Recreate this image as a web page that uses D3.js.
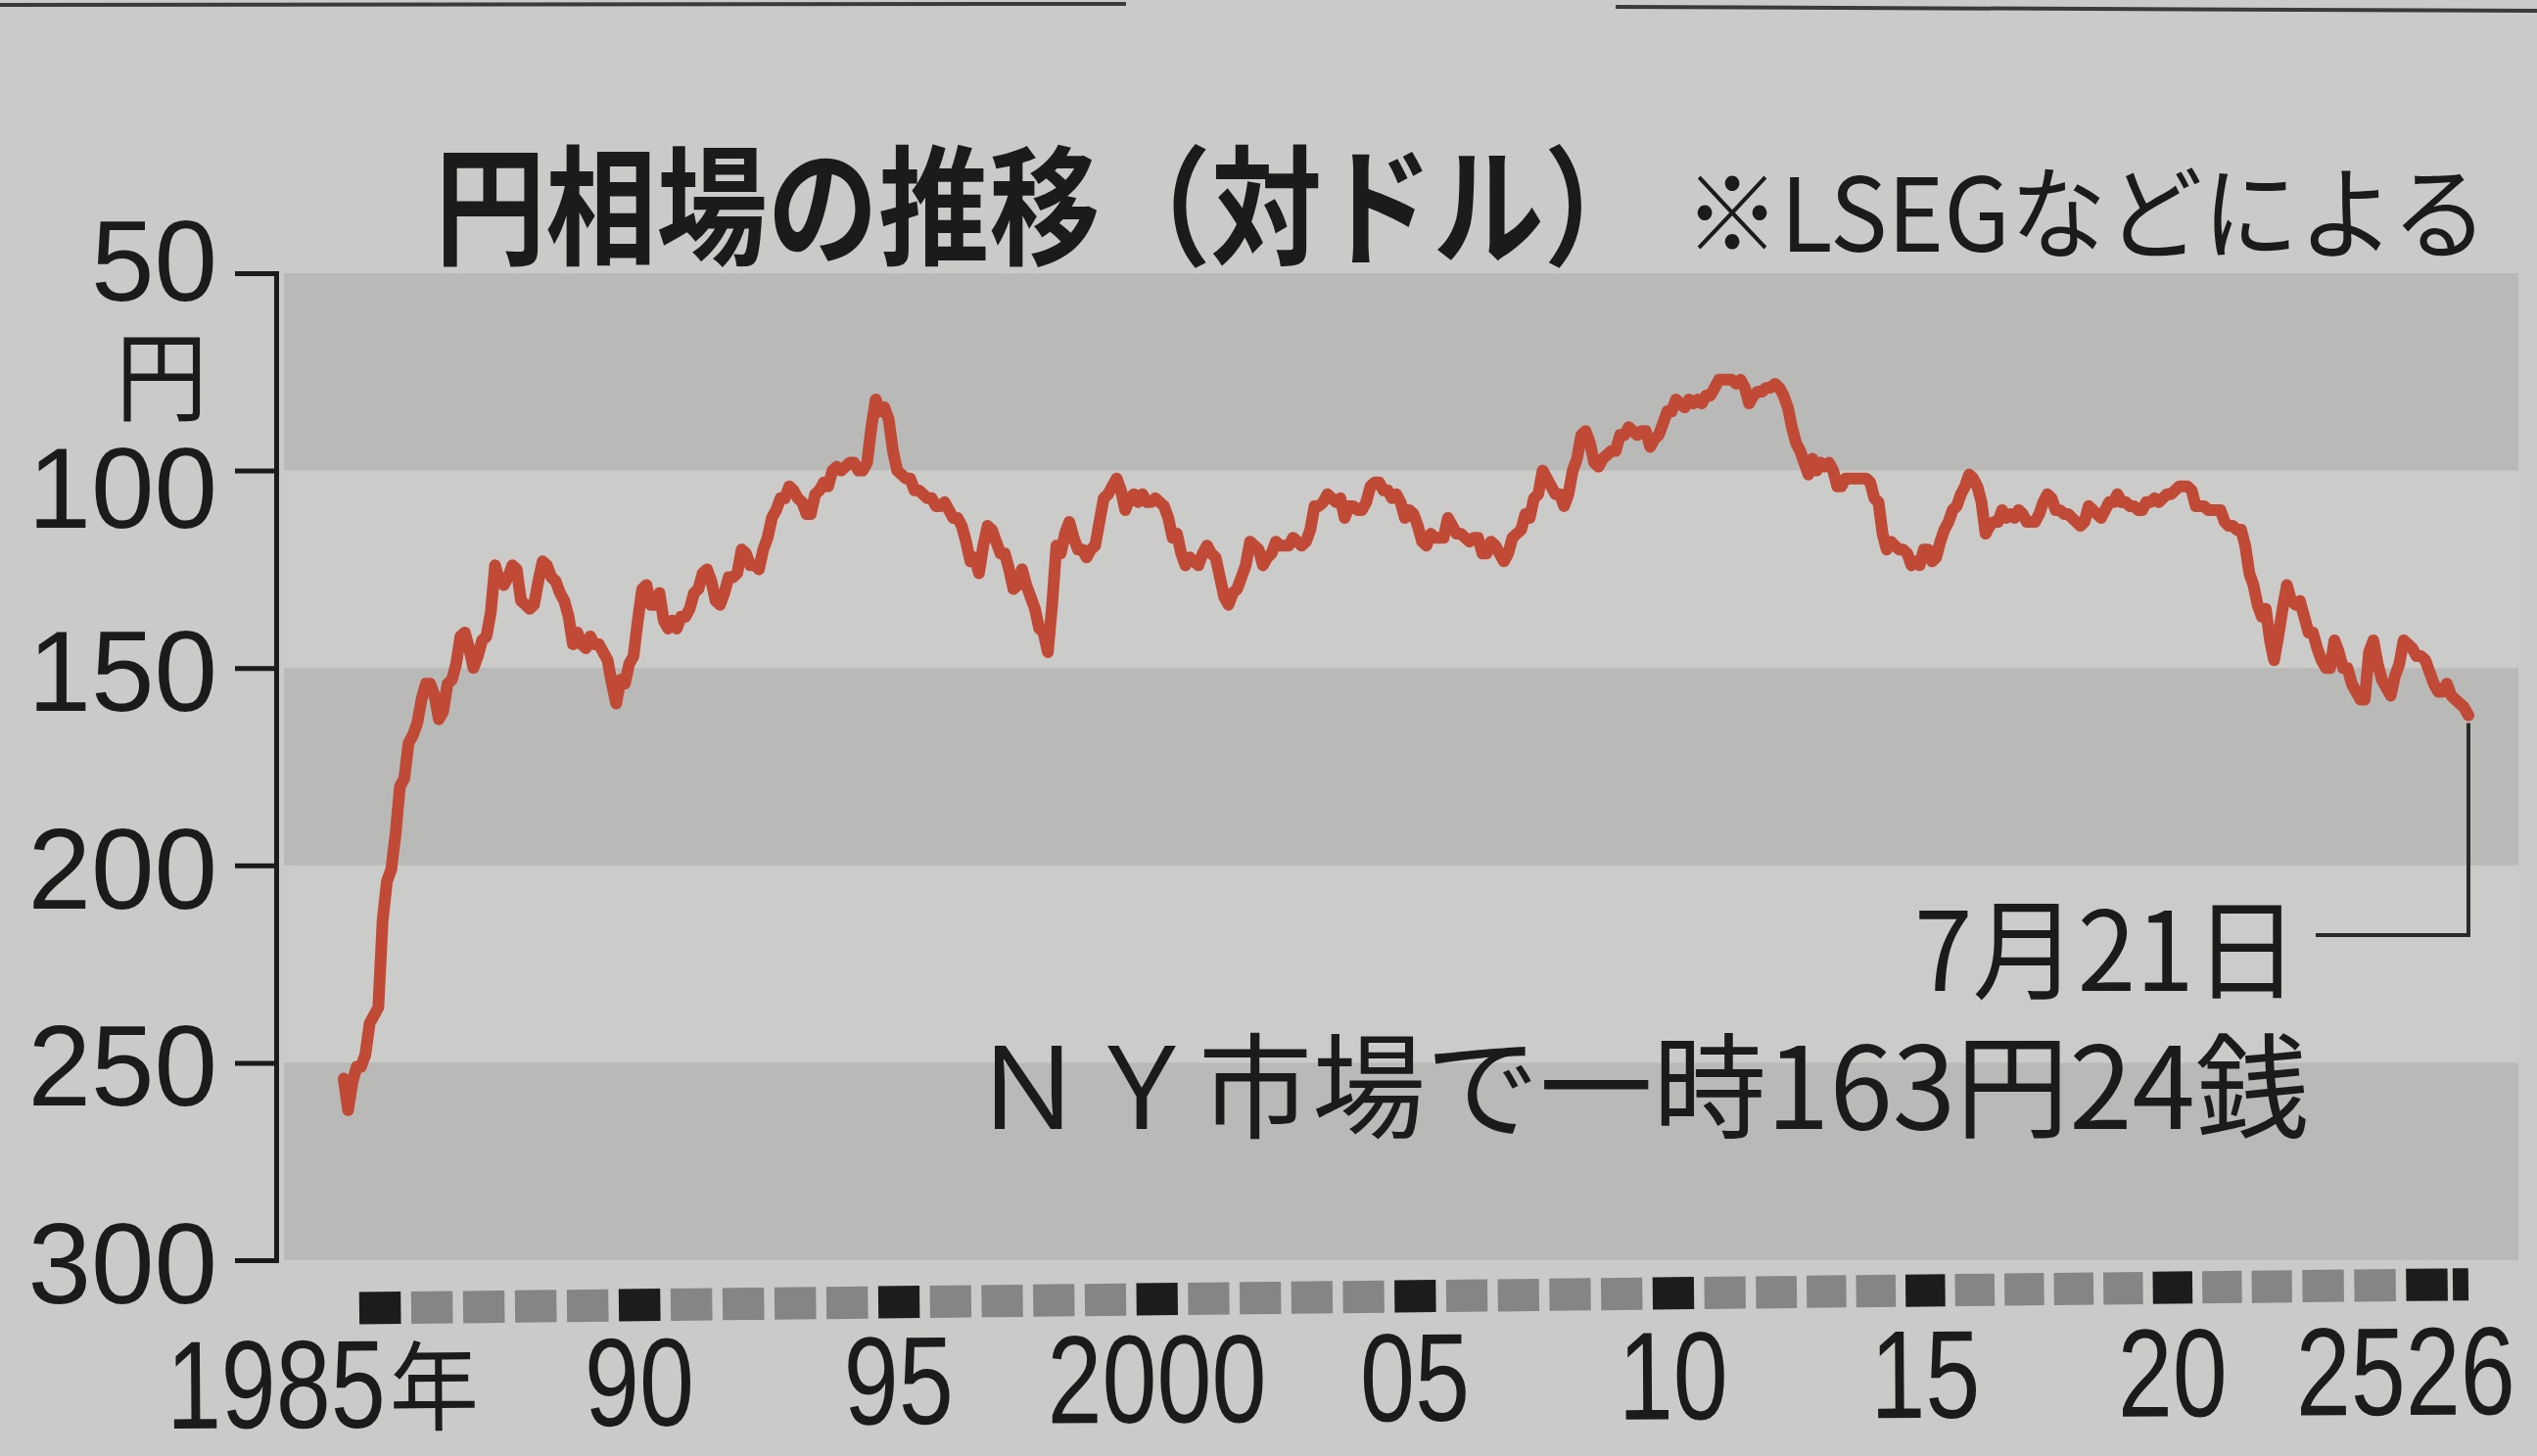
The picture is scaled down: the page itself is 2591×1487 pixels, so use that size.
<!DOCTYPE html>
<html><head><meta charset="utf-8">
<script src="https://cdn.jsdelivr.net/npm/d3@7"></script>
<style>html,body{margin:0;padding:0;background:#cacac8;} svg{display:block;}</style>
</head><body>
<svg id="chart" width="2591" height="1487"></svg>
<script>
// ---- data (monthly USD/JPY, yen per dollar) ----
const startYear = 1985;
const rate1985_1994 = [
  254,262,255,251,251,248,240,238,236,214,204,201,
  192,180,178,169,167,164,158,154,154,157,163,161,
  154,153,149,142,141,145,150,147,143,142,136,124,
  128,129,127,124,125,133,134,135,134,128,123,124,
  127,128,131,133,137,144,141,144,145,142,144,144,
  146,148,154,159,153,154,149,147,138,130,129,134,
  134,131,138,140,138,140,137,137,135,131,130,126,
  125,128,133,134,131,127,127,126,120,121,124,124,
  125,120,117,112,110,107,107,104,105,107,108,111,
  111,106,105,103,104,100,99,100,99,98,98,100
];
const rate1995_2004 = [
  100,98,89,82,85,84,87,95,100,101,102,102,
  105,105,106,107,107,109,109,108,110,112,112,114,
  118,123,122,126,119,114,115,118,121,121,125,130,
  129,125,129,132,135,140,141,146,134,119,121,116,
  113,117,120,120,122,120,119,113,107,106,104,102,
  105,110,107,106,108,106,108,108,107,108,109,112,
  117,116,121,124,122,123,124,121,119,121,122,127,
  132,134,131,130,127,124,118,119,120,124,122,121,
  118,119,119,119,117,118,119,118,115,109,109,108,
  106,107,108,107,112,109,109,110,110,108,104,103
];
const rate2005_2014 = [
  103,105,105,107,106,108,112,110,111,114,118,119,
  116,117,117,117,112,114,116,116,117,118,117,117,
  121,121,118,119,121,123,121,117,116,115,111,112,
  107,106,100,102,104,106,106,109,106,100,97,91,
  90,93,98,99,97,96,95,95,91,91,89,90,
  91,90,90,94,92,91,88,85,85,82,83,84,
  82,83,82,83,81,81,79,77,77,77,77,78,
  77,79,83,81,80,80,79,79,78,79,81,84,
  89,93,95,98,101,97,100,98,99,98,100,104,
  104,102,102,102,102,102,102,103,107,108,116,120
];
const rate2015_2026 = [
  118,119,120,120,121,124,123,124,120,120,123,122,
  118,115,113,110,109,106,104,101,102,104,108,116,
  114,113,113,110,112,111,112,110,111,113,113,113,
  111,108,106,107,110,110,111,111,112,113,114,113,
  109,110,111,112,110,108,108,106,108,108,109,109,
  110,110,108,108,107,108,107,106,106,105,104,104,
  104,105,109,109,109,110,110,110,110,113,114,114,
  115,115,119,126,129,134,137,135,143,148,142,135,
  129,133,134,133,137,141,141,145,148,150,150,143,
  146,150,150,154,156,158,158,146,143,149,153,155,
  157,152,149,143,144,145,147,147,148,151,154,156,
  156,154,157,158,159,160,162
];
const yTicks = [50, 100, 150, 200, 250, 300];
const yUnit = "円";
const labelYears = [1985, 1990, 1995, 2000, 2005, 2010, 2015, 2020, 2026];
const labelTexts = ["1985", "90", "95", "2000", "05", "10", "15", "20", "2526"];
const firstLabelSuffix = "年";
const blackYears = [1985, 1990, 1995, 2000, 2005, 2010, 2015, 2020, 2025, 2026];
const titleText = "円相場の推移（対ドル）";
const sourceText = "※LSEGなどによる";
const noteDate = "7月21日";
const noteText = "ＮＹ市場で一時163円24銭";

// ---- build ----
const series = [].concat(rate1985_1994, rate1995_2004, rate2005_2014, rate2015_2026)
  .map((v, i) => ({ t: startYear + i / 12, v }));
const last = series[series.length - 1];

const x = d3.scaleLinear()
  .domain([1985, 1995.3, 2012.9, 2022.8, last.t])
  .range([351, 897, 1825, 2325, 2521]);
const y = d3.scaleLinear().domain([50, 300]).range([279, 1287]);

const svg = d3.select("#chart");
const CJK = "'Noto Sans CJK JP', sans-serif";
const LAT = "'Liberation Sans', Arial, sans-serif";
const INK = "#1b1b1b";

// put a text at (tx,ty), squeezed horizontally to 'width' (if given)
function fitText(parent, str, tx, ty, opts) {
  const t = parent.append("text")
    .attr("font-family", opts.family || CJK)
    .attr("font-size", opts.size)
    .attr("font-weight", opts.weight || 400)
    .attr("fill", INK)
    .attr("text-anchor", opts.anchor || "start")
    .attr("dominant-baseline", opts.baseline || "central")
    .text(str);
  let sx = 1;
  if (opts.width) sx = opts.width / t.node().getComputedTextLength();
  t.attr("transform", `translate(${tx},${ty}) scale(${sx},1)`);
  return t;
}

// page border line at top
svg.append("path").attr("d", "M0,5L1150,4M1650,7L2591,11")
  .attr("stroke", "#3a3a3a").attr("stroke-width", 4).attr("fill", "none");

// bands
const bandPairs = d3.pairs(yTicks);
svg.append("g").selectAll("rect").data(bandPairs).join("rect")
  .attr("x", 290).attr("width", 2572 - 290)
  .attr("y", d => y(d[0])).attr("height", d => y(d[1]) - y(d[0]))
  .attr("fill", (d, i) => i % 2 === 0 ? "#b9b9b7" : "#cbcbc9");

// y axis (bracket)
const yAxis = d3.axisLeft(y).tickValues(yTicks).tickSize(42).tickSizeOuter(42).tickFormat("");
const ga = svg.append("g").attr("transform", "translate(282,0)").call(yAxis);
ga.selectAll("path,line").attr("stroke", INK).attr("stroke-width", 5);

const gy = svg.append("g");
yTicks.forEach(d => {
  const nudge = d === 50 ? -16 : (d === 100 ? 14 : 0);
  fitText(gy, String(d), 222, y(d) + 44 + nudge,
    { size: 116, anchor: "end", family: LAT, baseline: "alphabetic" });
});
fitText(gy, yUnit, 118, y(50) + 143, { size: 100, width: 94, baseline: "alphabetic" });

// line
const line = d3.line().x(d => x(d.t)).y(d => y(d.v));
svg.append("path").datum(series).attr("d", line)
  .attr("fill", "none").attr("stroke", "#c04a36").attr("stroke-width", 12)
  .attr("stroke-linejoin", "round").attr("stroke-linecap", "round");

// title
fitText(svg, titleText, 444, 202, { size: 132, weight: 700, width: 1246 });
fitText(svg, sourceText, 1720, 212, { size: 104, width: 821 });

// annotation
const noteY = 963;
svg.append("path")
  .attr("d", `M${x(last.t)},${y(last.v) + 8}V${noteY - 8}H2365`)
  .attr("fill", "none").attr("stroke", "#2a2a2a").attr("stroke-width", 4);
fitText(svg, noteDate, 1955, noteY, { size: 112, width: 393 });
fitText(svg, noteText, 992, 1102, { size: 116, width: 1366 });

// x axis: year squares + labels (slightly tilted like the print)
const gsq = svg.append("g").attr("transform", "rotate(-0.65,1300,1326)");
const years = d3.range(1985, Math.floor(last.t) + 1);
const sq = yr => ({
  x0: x(yr === Math.floor(last.t) ? yr + 0.2 : yr + 0.3),
  x1: x(Math.min(yr + 1.1, last.t))
});
gsq.selectAll("rect").data(years).join("rect")
  .attr("x", d => sq(d).x0).attr("width", d => sq(d).x1 - sq(d).x0)
  .attr("y", 1309).attr("height", 33)
  .attr("fill", d => blackYears.includes(d) ? "#1c1c1c" : "#858583");

const gx = svg.append("g").attr("transform", "rotate(-0.35,1300,1452)");
const digitW = 56;
const labelBase = 1452;
labelYears.forEach((yr, i) => {
  const s = sq(yr), c = (s.x0 + s.x1) / 2;
  const txt = labelTexts[i];
  const len = txt.length * digitW;
  let x0;
  if (i === 0) x0 = c - 218;
  else if (i === labelYears.length - 1) x0 = c + digitW - len;
  else x0 = c - len / 2;
  fitText(gx, txt, x0, labelBase, { size: 128, width: len, family: LAT, baseline: "alphabetic" });
  if (i === 0) {
    fitText(gx, firstLabelSuffix, x0 + len + 4, labelBase - 4, { size: 100, width: 91, baseline: "alphabetic" });
  }
});
</script>
</body></html>
